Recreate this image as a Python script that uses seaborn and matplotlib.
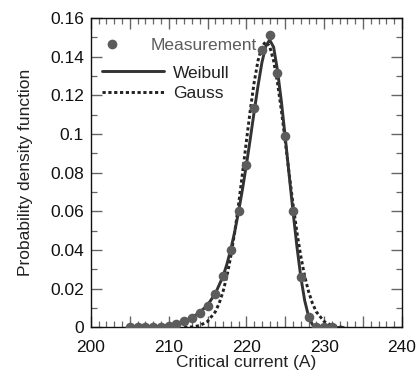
import matplotlib
matplotlib.use("Agg")
import matplotlib.pyplot as plt
from matplotlib.ticker import MultipleLocator, FuncFormatter
from matplotlib.lines import Line2D
import seaborn as sns
import pandas as pd

# ---- data ----
meas_current = [205, 206, 207, 208, 209, 210, 211, 212, 213, 214, 215, 216, 217, 218,
                219, 220, 221, 222, 223, 224, 225, 226, 227, 228, 229, 230, 231]
meas_pdf = [0.0, 0.0, 0.0, 0.0, 0.0, 0.001, 0.002, 0.0035, 0.005, 0.0075, 0.011, 0.0175,
            0.0265, 0.0403, 0.0603, 0.0838, 0.1135, 0.1435, 0.1512, 0.1318, 0.099,
            0.0603, 0.026, 0.0054, 0.0, 0.0, 0.0]

weibull_current = [205, 206, 207, 208, 209, 210, 211, 212, 213, 214, 215, 216, 217, 217.5,
                   218, 218.5, 219, 219.5, 220, 220.5, 221, 221.5, 222, 222.5, 223, 223.5,
                   224, 224.5, 225, 225.5, 226, 226.5, 227, 227.5, 228, 228.5, 229, 230,
                   231, 232.5]
weibull_pdf = [0.0, 0.0001, 0.0002, 0.0004, 0.0007, 0.0012, 0.002, 0.0033, 0.0052, 0.0078,
               0.0116, 0.0175, 0.0265, 0.0328, 0.0405, 0.0495, 0.060, 0.0715, 0.084,
               0.0975, 0.1115, 0.125, 0.137, 0.1455, 0.1487, 0.145, 0.133, 0.117, 0.0985,
               0.079, 0.060, 0.042, 0.0262, 0.014, 0.0058, 0.0015, 0.0002, 0.0, 0.0, 0.0]

gauss_current = [212, 213, 214, 215, 216, 216.5, 217, 217.5, 218, 218.5, 219, 219.5, 220,
                 220.5, 221, 221.5, 222, 222.5, 223, 223.5, 224, 224.5, 225, 225.5, 226,
                 226.5, 227, 227.5, 228, 228.5, 229, 230, 231, 232.5]
gauss_pdf = [0.0001, 0.0003, 0.001, 0.0031, 0.0081, 0.0125, 0.0186, 0.0266, 0.0369,
             0.0493, 0.0638, 0.0797, 0.0963, 0.1123, 0.1267, 0.138, 0.1453, 0.1478,
             0.1453, 0.138, 0.1267, 0.1123, 0.0963, 0.0797, 0.0638, 0.0493, 0.0369,
             0.0266, 0.0186, 0.0125, 0.0081, 0.0031, 0.001, 0.0]

x_label = "Critical current (A)"
y_label = "Probability density function"
series_names = ["Measurement", "Weibull", "Gauss"]

# ---- style ----
sns.set_style("ticks")
plt.rcParams["font.family"] = ["Liberation Sans", "DejaVu Sans"]
plt.rcParams["font.size"] = 12.5

meas_color = "#5c5c5c"
weib_color = "#333333"
gauss_color = "#222222"
fs = 12.5

fig = plt.figure(figsize=(4.19, 3.76), dpi=100)
ax = fig.add_axes([0.217, 0.129, 0.742, 0.823])

df_w = pd.DataFrame({"x": weibull_current, "y": weibull_pdf})
df_g = pd.DataFrame({"x": gauss_current, "y": gauss_pdf})
df_m = pd.DataFrame({"x": meas_current, "y": meas_pdf})

sns.lineplot(data=df_g, x="x", y="y", ax=ax, color=gauss_color, linewidth=2.1,
             linestyle=(0, (1.1, 0.9)), sort=False, zorder=2)
sns.lineplot(data=df_w, x="x", y="y", ax=ax, color=weib_color, linewidth=2.1,
             sort=False, zorder=3)
sns.scatterplot(data=df_m, x="x", y="y", ax=ax, color=meas_color, s=48,
                linewidth=0, zorder=4)

ax.set_xlim(200, 240)
ax.set_ylim(0, 0.16)
ax.set_xlabel(x_label, fontsize=fs, color="#222222", labelpad=0)
ax.set_ylabel(y_label, fontsize=fs, color="#222222", labelpad=12)

ax.xaxis.set_major_locator(MultipleLocator(5))
ax.xaxis.set_minor_locator(MultipleLocator(1))
ax.xaxis.set_major_formatter(FuncFormatter(lambda v, p: f"{v:.0f}" if round(v) % 10 == 0 else ""))
ax.yaxis.set_major_locator(MultipleLocator(0.02))
ax.yaxis.set_minor_locator(MultipleLocator(0.01))
ax.yaxis.set_major_formatter(FuncFormatter(lambda v, p: f"{v:g}"))

ax.tick_params(which="both", direction="in", top=True, right=True, color="#666666",
               labelsize=fs, labelcolor="#111111")
ax.tick_params(which="major", length=8, width=1.0)
ax.tick_params(axis="x", which="major", pad=9)
ax.tick_params(axis="y", which="major", pad=5)
ax.tick_params(which="minor", length=4, width=0.9)
for s in ax.spines.values():
    s.set_color("#111111")
    s.set_linewidth(1.0)

# ---- legend ----
h_meas = Line2D([], [], linestyle="none", marker="o", markersize=7,
                markerfacecolor=meas_color, markeredgewidth=0)
leg1 = ax.legend([h_meas], [series_names[0]], loc="upper left",
                 bbox_to_anchor=(0.035, 0.935), frameon=False, borderpad=0,
                 borderaxespad=0, handlelength=1.2, handletextpad=1.6, fontsize=fs,
                 labelcolor=meas_color)
ax.add_artist(leg1)
h_w = Line2D([], [], color=weib_color, linewidth=2.1)
h_g = Line2D([], [], color=gauss_color, linewidth=2.1, linestyle=(0, (1.1, 0.9)))
leg2 = ax.legend([h_w, h_g], series_names[1:], loc="upper left",
                 bbox_to_anchor=(0.035, 0.847), frameon=False, borderpad=0,
                 borderaxespad=0, handlelength=3.6, handletextpad=0.5,
                 labelspacing=0.32, fontsize=fs, labelcolor="#222222")

fig.savefig("out.png", dpi=100)
